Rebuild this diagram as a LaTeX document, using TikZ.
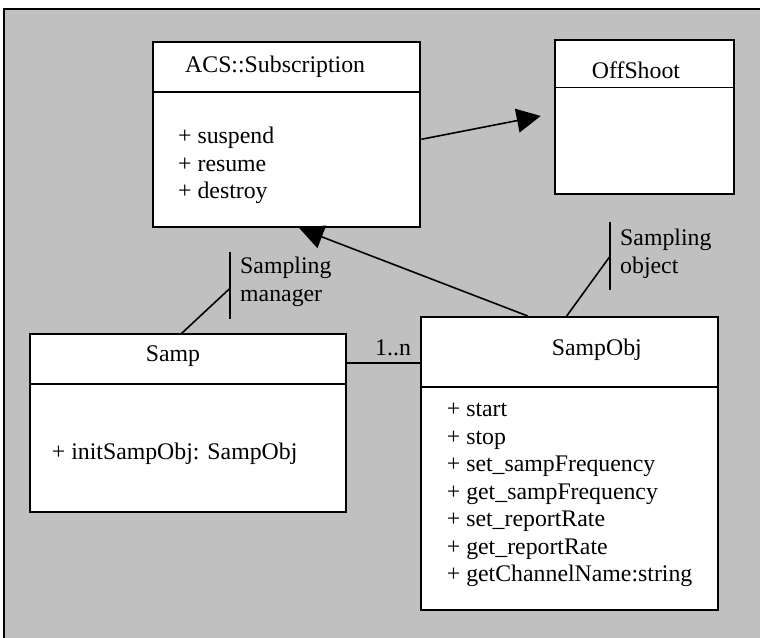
\documentclass[tikz,border=0pt]{standalone}
\usepackage{fontspec}
\setmainfont{Liberation Serif}
\usetikzlibrary{arrows.meta}
\definecolor{panel}{HTML}{C0C0C0}
\tikzset{
  classbox/.style={draw, fill=white, line width=2pt, inner sep=0pt, anchor=north west},
  divider/.style={line width=1.6pt},
  txt/.style={anchor=base west, inner sep=0pt, font=\fontsize{23.8}{28}\selectfont},
  link/.style={line width=1.6pt},
  gen/.style={link, -{Triangle[length=24pt,width=24pt]}},
  rolebar/.style={line width=1.6pt},
}
\begin{document}
\begin{tikzpicture}[x=1pt,y=-1pt]
\useasboundingbox (0,0) rectangle (760,637);
% grey panel, framed on top and left
\fill[panel] (4,9) rectangle (764,641);
\draw[line width=1.2pt] (4,641) -- (4,9) -- (764,9);

% ---- ACS::Subscription ----
\node[classbox, minimum width=267pt, minimum height=185pt] (acs) at (152.3,40.7) {};
\draw[divider] (acs.west |- 0,91.7) -- (acs.east |- 0,91.7);
\node[txt] (acsT) at (185,72.3) {ACS::Subscription};
\foreach \t [count=\i] in {suspend,resume,destroy}
  \node[txt] (acs-\i) at (178,{143.5+27.5*(\i-1)}) {+ \t};

% ---- OffShoot ----
\node[classbox, minimum width=179.3pt, minimum height=153.4pt] (off) at (554,39.3) {};
\draw[divider] (off.west |- 0,87.3) -- (off.east |- 0,87.3);
\node[txt] (offT) at (591.7,78.3) {OffShoot};

% ---- Samp ----
\node[classbox, minimum width=316pt, minimum height=177.4pt] (samp) at (29,333.3) {};
\draw[divider] (samp.west |- 0,384) -- (samp.east |- 0,384);
\node[txt] (sampT) at (145.7,361.7) {Samp};
\node[txt] (samp-1) at (51.7,459.3) {+ initSampObj: SampObj};

% ---- SampObj ----
\node[classbox, minimum width=297.5pt, minimum height=293.3pt] (so) at (419.5,316) {};
\draw[divider] (so.west |- 0,386.7) -- (so.east |- 0,386.7);
\node[txt] (soT) at (551.7,355) {SampObj};
\foreach \t [count=\i] in {start,stop,set\_sampFrequency,get\_sampFrequency,set\_reportRate,get\_reportRate,getChannelName:string}
  \node[txt] (so-\i) at (446.7,{416.7+27.5*(\i-1)}) {+ \t};

% ---- connectors ----
\draw[gen, shorten >=13.5pt] (acs.east |- 0,139.3) -- (off.west |- 0,113.4);
\draw[gen, shorten >=1.5pt] (so.north -| 527.7,0) -- (acs.south -| 298,0);
\draw[link] (samp.east |- 0,362.7) -- (so.west |- 0,362.7);
\node[txt] (mult) at (375,355) {1..n};

% role: Sampling manager
\coordinate (mgrTop) at (230,251.7);
\coordinate (mgrBot) at (230,319.3);
\coordinate (mgrMid) at (230,288.3);
\draw[rolebar] (mgrTop) -- (mgrBot);
\draw[link] (samp.north -| 181.7,0) -- (mgrMid);
\node[txt] (mgr1) at (240,273.3) {Sampling};
\node[txt] (mgr2) at (240,301.3) {manager};

% role: Sampling object
\coordinate (objTop) at (609.7,221.7);
\coordinate (objBot) at (609.7,290);
\coordinate (objMid) at (609.7,256.7);
\draw[rolebar] (objTop) -- (objBot);
\draw[link] (so.north -| 566.7,0) -- (objMid);
\node[txt] (obj1) at (620,245) {Sampling};
\node[txt] (obj2) at (620,273.3) {object};
\end{tikzpicture}
\end{document}
